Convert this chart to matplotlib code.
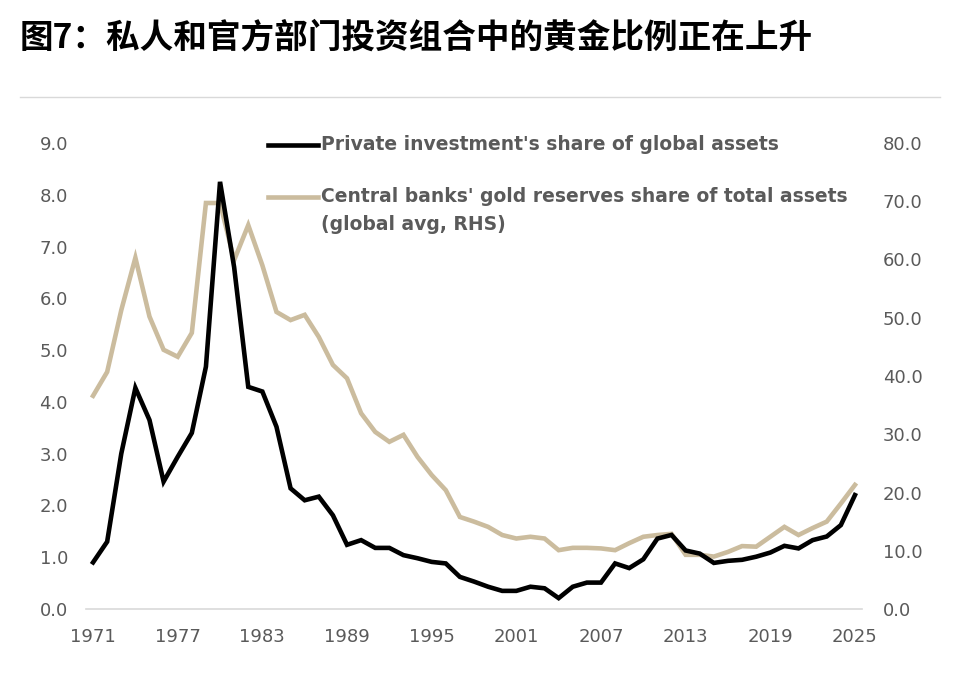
import matplotlib
matplotlib.use("Agg")
import matplotlib.pyplot as plt
from matplotlib.lines import Line2D

years = list(range(1971, 2026))
private_share = [0.90, 1.30, 3.00, 4.27, 3.65, 2.46, 2.94, 3.40, 4.68, 8.25,
                 6.60, 4.29, 4.20, 3.52, 2.33, 2.10, 2.17, 1.81, 1.24, 1.33,
                 1.18, 1.18, 1.04, 0.98, 0.91, 0.88, 0.62, 0.53, 0.43, 0.35,
                 0.35, 0.43, 0.40, 0.21, 0.43, 0.51, 0.51, 0.88, 0.79, 0.96,
                 1.36, 1.43, 1.13, 1.07, 0.89, 0.93, 0.95, 1.01, 1.09, 1.22,
                 1.17, 1.33, 1.40, 1.62, 2.20]
cb_share = [36.6, 40.7, 51.3, 60.3, 50.2, 44.5, 43.3, 47.4, 69.7, 69.7,
            59.9, 65.9, 59.0, 51.0, 49.6, 50.5, 46.7, 41.9, 39.6, 33.6,
            30.4, 28.7, 29.9, 26.1, 23.0, 20.4, 15.8, 15.0, 14.1, 12.7,
            12.1, 12.4, 12.1, 10.1, 10.5, 10.5, 10.4, 10.1, 11.3, 12.4,
            12.7, 12.9, 9.3, 9.3, 9.0, 9.8, 10.8, 10.7, 12.4, 14.1,
            12.7, 13.9, 15.0, 18.1, 21.3]
left_ticks = [0, 1, 2, 3, 4, 5, 6, 7, 8, 9]
right_ticks = [0, 10, 20, 30, 40, 50, 60, 70, 80]
x_ticks = [1971, 1977, 1983, 1989, 1995, 2001, 2007, 2013, 2019, 2025]

title = "图7：私人和官方部门投资组合中的黄金比例正在上升"
label_private = "Private investment's share of global assets"
label_cb = "Central banks' gold reserves share of total assets"
label_cb_2 = "(global avg, RHS)"

BEIGE = "#CBBC9E"
TXT = "#5A5A5A"

W, H = 968, 688
fig = plt.figure(figsize=(W / 100, H / 100), dpi=100)
fig.patch.set_facecolor("white")

fig.text(20 / W, 1 - 38 / H, title, fontsize=24.2, fontweight="heavy",
         family=["Noto Sans CJK SC", "DejaVu Sans"], va="center", ha="left", color="black")
fig.add_artist(Line2D([20 / W, 940 / W], [1 - 97 / H, 1 - 97 / H], color="#D9D9D9", lw=1))

left, right = 86 / W, 862 / W
bottom, top = 1 - 609 / H, 1 - 143 / H
ax = fig.add_axes([left, bottom, right - left, top - bottom])
ax2 = ax.twinx()

ax.set_xlim(1970.5, 2025.5)
ax.set_ylim(0, 9)
ax2.set_ylim(0, 80)

ax2.plot(years, cb_share, color=BEIGE, lw=3.3, solid_joinstyle="miter", zorder=2)
ax.plot(years, private_share, color="black", lw=3.3, solid_joinstyle="miter", zorder=3)
ax.set_zorder(ax2.get_zorder() + 1)
ax.patch.set_visible(False)

fnt = "DejaVu Sans"
fs = 13
ax.set_yticks(left_ticks)
ax.set_yticklabels([f"{v:.1f}" for v in left_ticks], fontsize=fs, color=TXT, family=fnt)
ax2.set_yticks(right_ticks)
ax2.set_yticklabels([f"{v:.1f}" for v in right_ticks], fontsize=fs, color=TXT, family=fnt)
ax.set_xticks(x_ticks)
ax.set_xticklabels([str(v) for v in x_ticks], fontsize=fs, color=TXT, family=fnt)

for a in (ax, ax2):
    for s in a.spines.values():
        s.set_visible(False)
    a.tick_params(length=0)
ax.spines["bottom"].set_visible(True)
ax.spines["bottom"].set_color("#D9D9D9")
ax.spines["bottom"].set_linewidth(1.2)
ax.tick_params(axis="y", pad=13)
ax2.tick_params(axis="y", pad=15)
ax.tick_params(axis="x", pad=14)

# legend (Excel style: handle aligned with first text line)
lfs = 13.5
def fy(py):
    return 1 - py / H
fig.add_artist(Line2D([268 / W, 318 / W], [fy(145), fy(145)], color="black", lw=3.3))
fig.add_artist(Line2D([268 / W, 318 / W], [fy(197), fy(197)], color=BEIGE, lw=3.3))
lkw = dict(fontsize=lfs, fontweight="bold", family=fnt, color=TXT, ha="left", va="center")
fig.text(321 / W, fy(145), label_private, **lkw)
fig.text(321 / W, fy(197), label_cb, **lkw)
fig.text(321 / W, fy(225), label_cb_2, **lkw)

fig.savefig("out.png", dpi=100, facecolor="white")
